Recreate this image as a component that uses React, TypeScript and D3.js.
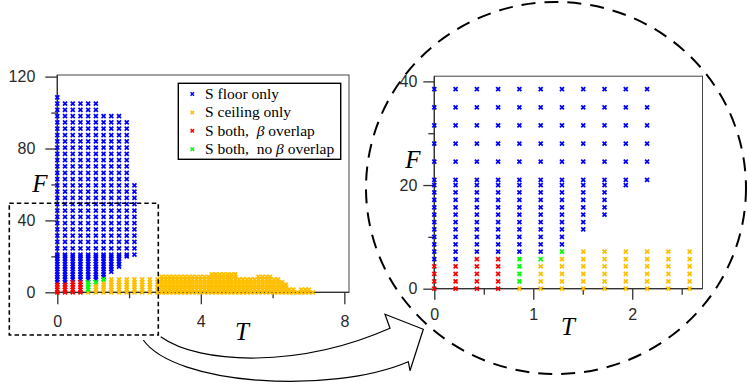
import React, { useRef, useEffect } from 'react';
import * as d3 from 'd3';

// F values of the sweep grid (row index -> F)
const fGrid = [0, 1.43, 2.86, 4.29, 5.71, 7.14, 8.57, 10, 11.43, 12.86, 14.29, 15.71, 17.14, 18.57, 20,
  21, 24.5, 28, 31.5, 35, 38.5, 42, 45.5, 49, 52.5, 56, 59.5, 63, 66.5, 70, 73.5, 77, 80.5, 84, 87.5,
  91, 94.5, 98, 101.5, 105, 108.5];

// coarse T columns
const tSparse = [0, 0.215, 0.43, 0.645, 0.86, 1.075, 1.29, 1.505, 1.72, 1.935, 2.15, 2.365, 2.58, 2.795];

// [first row, last row] in fGrid for each coarse column, null when absent
const floorRows = [[4, 40], [4, 39], [5, 39], [5, 39], [5, 39], [5, 39], [6, 37], [8, 37], [10, 37], [14, 36], [15, 26], null, null, null];
const ceilingRows = [null, null, null, null, [0, 0], [0, 3], [0, 4], [0, 5], [0, 5], [0, 5], [0, 5], [0, 5], [0, 5], [0, 5]];
const overlapRows = [[0, 3], [0, 3], [0, 4], [0, 4], null, null, null, null, null, null, null, null, null, null];
const noOverlapRows = [null, null, null, null, [1, 4], [4, 4], [5, 5], null, null, null, null, null, null, null];

// fine T columns further out, ceiling only, topmost row index
const tDense = [2.91, 3.02, 3.13, 3.23, 3.34, 3.45, 3.56, 3.67, 3.77, 3.88, 3.99, 4.10, 4.21, 4.31, 4.42,
  4.53, 4.64, 4.75, 4.85, 4.96, 5.07, 5.18, 5.29, 5.39, 5.50, 5.61, 5.72, 5.83, 5.93, 6.04, 6.15, 6.26,
  6.37, 6.47, 6.58, 6.69, 6.80, 6.91, 7.01, 7.12];
const denseTop = [6, 6, 6, 6, 6, 6, 6, 6, 6, 6, 6, 6, 6, 7, 7, 7, 7, 7, 7, 7, 5, 5, 5, 5, 5, 6, 6, 6, 6,
  5, 5, 4, 3, 1, 1, 0, 1, 1, 1, 0];

const seriesColors = ['#0000ff', '#ffbf00', '#ff0000', '#00ff00'];
const legendParts: [string, boolean][][] = [
  [['S floor only', false]],
  [['S ceiling only', false]],
  [['S both,  ', false], ['β', true], [' overlap', false]],
  [['S both,  no ', false], ['β', true], [' overlap', false]],
];

const leftXMajor = [0, 4, 8];
const leftXMinor = [2, 6];
const leftYMajor = [0, 40, 80, 120];
const leftYMinor = [20, 60, 100];
const rightXMajor = [0, 1, 2];
const rightXMinor = [0.5, 1.5, 2.5];
const rightYMajor = [0, 20, 40];
const rightYMinor = [10, 30];

const W = 747;
const H = 384;

const buildPoints = () => {
  const pts: { t: number; f: number; s: number }[] = [];
  const groups = [floorRows, ceilingRows, overlapRows, noOverlapRows];
  tSparse.forEach((t, i) => {
    groups.forEach((rows, s) => {
      const r = rows[i];
      if (!r) return;
      for (let k = r[0]; k <= r[1]; k++) pts.push({ t, f: fGrid[k], s });
    });
  });
  tDense.forEach((t, i) => {
    for (let k = 0; k <= denseTop[i]; k++) pts.push({ t, f: fGrid[k], s: 1 });
  });
  return pts;
};

const cross = 'M-2,-2L2,2M-2,2L2,-2';

const drawPanel = (svg, p, pts) => {
  const x = d3.scaleLinear().domain([0, p.xMax]).range([p.left, p.right]);
  const y = d3.scaleLinear().domain([0, p.yMax]).range([p.bottom, p.top]);
  const g = svg.append('g');

  g.append('rect')
    .attr('x', p.left).attr('y', p.top)
    .attr('width', p.right - p.left).attr('height', p.bottom - p.top)
    .attr('fill', 'white').attr('stroke', '#444').attr('stroke-width', 1);

  const styleAxis = (a) => {
    a.select('.domain').remove();
    a.selectAll('line').attr('stroke', '#333').attr('stroke-width', 1.3);
    a.selectAll('text').attr('fill', '#2a2a2a').style('font-family', 'Liberation Sans, Arial, sans-serif').style('font-size', '16px');
  };

  g.append('g').attr('transform', `translate(0,${p.bottom})`)
    .call(d3.axisBottom(x).tickValues(p.xMajor).tickSize(p.tick).tickPadding(p.xPad).tickFormat(d3.format('d')))
    .call(styleAxis);
  g.append('g').attr('transform', `translate(0,${p.bottom})`)
    .call(d3.axisBottom(x).tickValues(p.xMinor).tickSize(6).tickFormat(() => ''))
    .call(styleAxis);
  g.append('g').attr('transform', `translate(${p.left},0)`)
    .call(d3.axisLeft(y).tickValues(p.yMajor).tickSize(p.tick).tickPadding(p.yPad).tickFormat(d3.format('d')))
    .call(styleAxis);
  g.append('g').attr('transform', `translate(${p.left},0)`)
    .call(d3.axisLeft(y).tickValues(p.yMinor).tickSize(6).tickFormat(() => ''))
    .call(styleAxis);

  g.append('line').attr('x1', p.left).attr('x2', p.right).attr('y1', p.bottom).attr('y2', p.bottom)
    .attr('stroke', '#333').attr('stroke-width', 1.3);
  g.append('line').attr('x1', p.left).attr('x2', p.left).attr('y1', p.top).attr('y2', p.bottom)
    .attr('stroke', '#333').attr('stroke-width', 1.3);

  const inside = pts.filter(d => d.t <= p.xMax + 1e-9 && d.f <= p.yMax);
  [0, 1, 2, 3].forEach(s => {
    g.append('g').selectAll('path')
      .data(inside.filter(d => d.s === s))
      .enter()
      .append('path')
      .attr('d', cross)
      .attr('transform', d => `translate(${x(d.t)},${y(d.f)})`)
      .attr('stroke', seriesColors[s])
      .attr('stroke-width', 1.75)
      .attr('fill', 'none');
  });

  const lab = (txt, pos) => g.append('text')
    .attr('x', pos[0]).attr('y', pos[1])
    .attr('text-anchor', 'middle')
    .style('font-family', 'Liberation Serif, Times New Roman, serif')
    .style('font-style', 'italic')
    .style('font-size', '25px')
    .text(txt);
  lab('F', p.fPos);
  lab('T', p.tPos);
  return g;
};

const App = () => {
  const svgRef = useRef(null);

  const mounted = () => {
    const svg = d3.select(svgRef.current);
    svg.selectAll('*').remove();
    const pts = buildPoints();

    drawPanel(svg, {
      left: 57.3, right: 349, top: 75, bottom: 292.3, xMax: 8.13, yMax: 120.9,
      xMajor: leftXMajor, xMinor: leftXMinor, yMajor: leftYMajor, yMinor: leftYMinor,
      tick: 12, xPad: 11, yPad: 10, fPos: [40, 192], tPos: [242, 340],
    }, pts);

    // legend
    const lg = svg.append('g');
    lg.append('rect').attr('x', 178.3).attr('y', 83.3).attr('width', 162.4).attr('height', 76)
      .attr('fill', 'white').attr('stroke', 'black').attr('stroke-width', 1.4);
    legendParts.forEach((parts, i) => {
      const cy = 94 + i * 18.4;
      lg.append('path').attr('d', 'M-1.7,-1.7L1.7,1.7M-1.7,1.7L1.7,-1.7')
        .attr('transform', `translate(192.3,${cy})`)
        .attr('stroke', seriesColors[i]).attr('stroke-width', 1.5);
      const t = lg.append('text').attr('x', 205).attr('y', cy + 5)
        .style('font-family', 'Liberation Serif, Times New Roman, serif')
        .style('font-size', '15.5px')
        .style('white-space', 'pre');
      parts.forEach(([s, it]) => {
        t.append('tspan').style('font-style', it ? 'italic' : 'normal').text(s);
      });
    });

    // zoom box on the left panel
    svg.append('rect').attr('x', 9.3).attr('y', 203.3).attr('width', 149).attr('height', 131.7)
      .attr('fill', 'none').attr('stroke', 'black').attr('stroke-width', 1.6)
      .attr('stroke-dasharray', '4.5 3');

    // curved arrow
    svg.append('path')
      .attr('d', 'M160.7,336.7 C200,365 300,368 390,328.3 L385,314.3 L423.3,329.3 L410,370.7 L408.3,361.7 C330,395 175,385 143.3,340')
      .attr('fill', 'white').attr('stroke', 'black').attr('stroke-width', 1.2)
      .attr('stroke-linejoin', 'miter');

    drawPanel(svg, {
      left: 434.3, right: 702.5, top: 76.2, bottom: 288.7, xMax: 2.71, yMax: 41,
      xMajor: rightXMajor, xMinor: rightXMinor, yMajor: rightYMajor, yMinor: rightYMinor,
      tick: 11, xPad: 9, yPad: 6, fPos: [413, 168], tPos: [568, 335],
    }, pts);

    // dashed loupe around the zoomed panel
    svg.append('ellipse').attr('cx', 556).attr('cy', 188).attr('rx', 190).attr('ry', 186)
      .attr('fill', 'none').attr('stroke', 'black').attr('stroke-width', 2)
      .attr('stroke-dasharray', '14 9');
  };

  useEffect(() => {
    mounted();
  }, []);

  return (
    <div style={{ position: 'absolute', left: 0, top: 0, width: W, height: H, background: 'white' }}>
      <svg ref={svgRef} width={W} height={H} style={{ display: 'block' }}></svg>
    </div>
  );
};

export default App;
